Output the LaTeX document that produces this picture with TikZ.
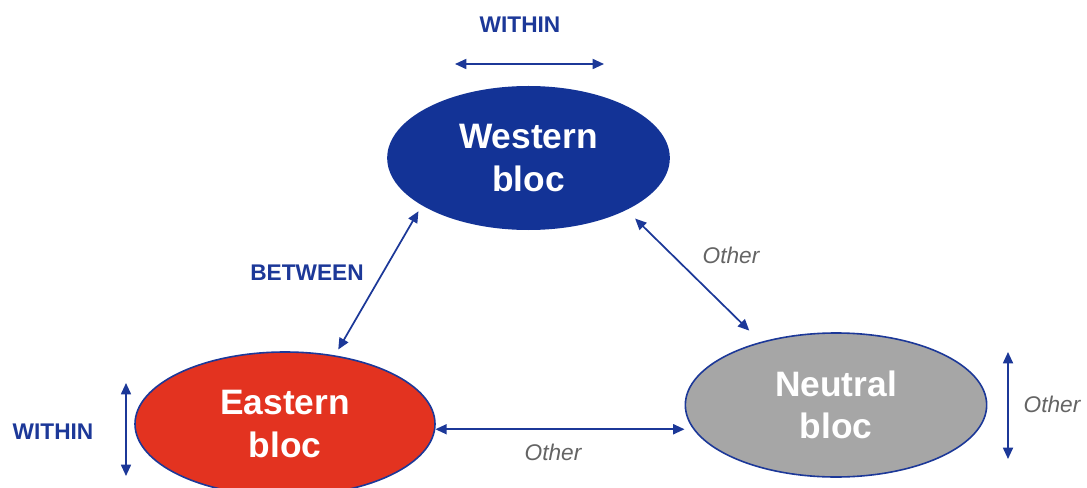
\documentclass[tikz,border=0pt]{standalone}
\usepackage{fontspec}
\setmainfont{Liberation Sans}
\usetikzlibrary{shapes.geometric,arrows.meta,calc}
\definecolor{wblue}{RGB}{19,51,150}
\definecolor{lblue}{RGB}{28,56,152}
\definecolor{ered}{RGB}{227,51,32}
\definecolor{ngray}{RGB}{166,166,166}
\definecolor{ogray}{RGB}{100,100,100}
\begin{document}
\begin{tikzpicture}[x=0.75pt,y=-0.75pt,
  bloc/.style={ellipse, inner sep=0pt, align=center, text=white,
    font=\bfseries\fontsize{26.5}{32}\selectfont},
  arr/.style={draw=lblue, line width=1.3pt,
    {Triangle[length=8.5pt,width=7.5pt]}-{Triangle[length=8.5pt,width=7.5pt]}},
  lab/.style={text=lblue, inner sep=0pt, font=\bfseries\fontsize{17}{20}\selectfont},
  oth/.style={text=ogray, inner sep=0pt, font=\itshape\fontsize{17}{20}\selectfont}]
\useasboundingbox (0,0) rectangle (1087,488);
% blocs
\node[bloc, fill=wblue, minimum width=212pt, minimum height=108pt] (w) at (528.5,158) {Western\\bloc};
\node[bloc, fill=ered, draw=lblue, line width=1.2pt, minimum width=225pt, minimum height=108pt] (e) at (285,424) {Eastern\\bloc};
\node[bloc, fill=ngray, draw=lblue, line width=1.2pt, minimum width=226pt, minimum height=108pt] (n) at (836,405) {Neutral\\bloc};
% labels
\node[lab] (wl) at (520,25) {WITHIN};
\node[lab] (el) at (53,432) {WITHIN};
\node[lab] (bl) at (307,273) {BETWEEN};
\node[oth] (o1) at (731,255) {Other};
\node[oth] (o2) at (553,452) {Other};
\node[oth] (o3) at (1052,404) {Other};
% free arrow ends
\coordinate (wa1) at (455,64);
\coordinate (wa2) at (604,64);
\coordinate (ea1) at (126,383);
\coordinate (ea2) at (126,476);
\coordinate (na1) at (1008,352);
\coordinate (na2) at (1008,459);
% connectors
\draw[arr] (wa1) -- (wa2);
\draw[arr] (ea1) -- (ea2);
\draw[arr] (na1) -- (na2);
\draw[arr, shorten <=5pt, shorten >=5pt] (e.54) -- (w.204);
\draw[arr, shorten <=9pt, shorten >=12pt] (w.-28) -- (n.140);
\draw[arr] (e.-2) -- (e.-2 -| n.west);
\end{tikzpicture}
\end{document}
